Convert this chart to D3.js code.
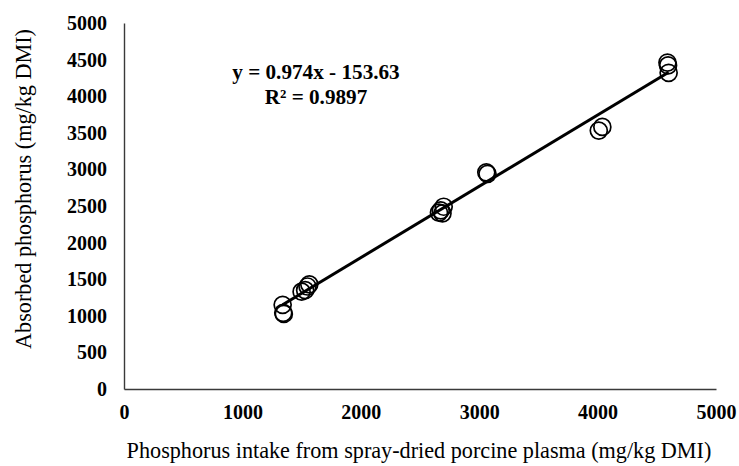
<!DOCTYPE html>
<html>
<head>
<meta charset="utf-8">
<script src="https://cdn.jsdelivr.net/npm/d3@7"></script>
<style>
  body { margin: 0; background: #fff; }
  svg { display: block; }
</style>
</head>
<body>
<div id="chart"></div>
<script>
var intakeP = [1340, 1345, 1350, 1500, 1530, 1550, 1565, 2660, 2675, 2690, 2700, 3060, 3070, 4010, 4040, 4590, 4595, 4600]
var absorbedP = [1150, 1040, 1025, 1330, 1350, 1400, 1430, 2410, 2440, 2400, 2490, 2960, 2940, 3530, 3580, 4460, 4420, 4320]
var xTicks = [0, 1000, 2000, 3000, 4000, 5000]
var yTicks = [0, 500, 1000, 1500, 2000, 2500, 3000, 3500, 4000, 4500, 5000]
var slope = 0.974
var intercept = -153.63
var eqLines = ['y = 0.974x - 153.63', 'R\u00b2 = 0.9897']

var chartW = 739
var chartH = 466
var plotLeft = 124, plotRight = 716, plotTop = 23, plotBottom = 389
var serif = '"Liberation Serif", "Times New Roman", serif'

var svg = d3.select('#chart').append('svg')
    .attr('width', chartW)
    .attr('height', chartH)

var x = d3.scaleLinear().domain([0, 5000]).range([plotLeft, plotRight])
var y = d3.scaleLinear().domain([0, 5000]).range([plotBottom, plotTop])

// axes without ticks, labels in bold serif
var xAxis = svg.append('g')
    .attr('transform', 'translate(0,' + plotBottom + ')')
    .call(d3.axisBottom(x).tickValues(xTicks).tickFormat(d3.format('d')).tickSize(0).tickPadding(16))
var yAxis = svg.append('g')
    .attr('transform', 'translate(' + plotLeft + ',0)')
    .call(d3.axisLeft(y).tickValues(yTicks).tickFormat(d3.format('d')).tickSize(0).tickPadding(17))

;[xAxis, yAxis].forEach(function(g){
    g.select('.domain').attr('stroke', '#3a3a3a').attr('stroke-width', 1.4)
    g.selectAll('text')
        .attr('font-family', serif)
        .attr('font-weight', 'bold')
        .attr('font-size', 20)
        .attr('fill', '#000')
})

// data points
svg.append('g').selectAll('circle')
    .data(intakeP)
    .enter()
    .append('circle')
    .attr('cx', function(d){ return x(d) })
    .attr('cy', function(d, i){ return y(absorbedP[i]) })
    .attr('r', 8.5)
    .attr('fill', 'none')
    .attr('stroke', '#000')
    .attr('stroke-width', 1.7)

// trendline over the range of the data
var xMin = d3.min(intakeP), xMax = d3.max(intakeP)
svg.append('line')
    .attr('x1', x(xMin))
    .attr('y1', y(slope * xMin + intercept))
    .attr('x2', x(xMax))
    .attr('y2', y(slope * xMax + intercept))
    .attr('stroke', '#000')
    .attr('stroke-width', 3)

// equation
svg.append('g').selectAll('text')
    .data(eqLines)
    .enter()
    .append('text')
    .attr('x', 316)
    .attr('y', function(d, i){ return 79 + i * 25 })
    .attr('text-anchor', 'middle')
    .attr('font-family', serif)
    .attr('font-weight', 'bold')
    .attr('font-size', 21.2)
    .text(function(d){ return d })

// axis titles
svg.append('text')
    .attr('x', 419)
    .attr('y', 458)
    .attr('text-anchor', 'middle')
    .attr('font-family', serif)
    .attr('font-size', 22.2)
    .text('Phosphorus intake from spray-dried porcine plasma (mg/kg DMI)')

svg.append('text')
    .attr('transform', 'translate(31,' + 189 + ') rotate(-90)')
    .attr('text-anchor', 'middle')
    .attr('font-family', serif)
    .attr('font-size', 22.2)
    .text('Absorbed phosphorus (mg/kg DMI)')
</script>
</body>
</html>
